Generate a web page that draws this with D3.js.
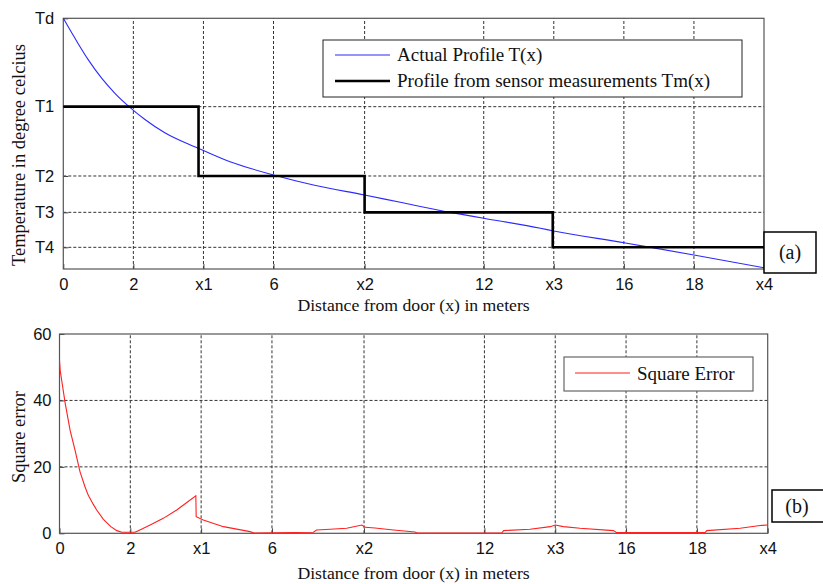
<!DOCTYPE html>
<html>
<head>
<meta charset="utf-8">
<script src="https://cdn.jsdelivr.net/npm/d3@7"></script>
<style>
  body { margin: 0; background: #fff; }
  svg { display: block; }
</style>
</head>
<body>
<script>
// values
var xTickVals   = [0, 2, 4, 6, 8.6, 12, 14, 16, 18, 20];
var xTickLabels = ["0", "2", "x1", "6", "x2", "12", "x3", "16", "18", "x4"];

var tempTickVals   = [30, 22.95, 17.42, 14.52, 11.73];
var tempTickLabels = ["Td", "T1", "T2", "T3", "T4"];

var errTickVals = [0, 20, 40, 60];

// actual profile T(x)
var profX = [0, 0.43, 0.71, 1.1, 1.48, 1.86, 2.33, 2.91, 3.58, 3.86, 4.76, 6, 7.14, 8.6, 9.62, 11.05, 12, 13.62, 14, 16, 16.76, 18, 20];
var profT = [30, 27.95, 26.7, 25.2, 24.0, 23.0, 21.93, 20.85, 19.95, 19.62, 18.56, 17.5, 16.7, 15.9, 15.32, 14.52, 14.05, 13.25, 13.03, 12.1, 11.73, 11.12, 10.1];

// sensor step profile Tm(x)
var stepX = [0, 3.86, 8.6, 13.97, 20];
var stepT = [22.95, 17.42, 14.52, 11.73, 11.73];

// square error
var errX = [0, 0.02, 0.155, 0.3, 0.44, 0.58, 0.72, 0.81, 0.955, 1.05, 1.24, 1.45, 1.62, 1.76, 2.13, 2.27, 2.56, 2.93, 3.31, 3.5, 3.85, 3.86, 4.06, 4.63, 5.38, 5.5, 7.17, 7.26, 7.64, 8.11, 8.54, 8.63, 8.91, 9.43, 10.04, 10.1, 12.49, 12.54, 13.29, 13.86, 14.0, 14.23, 14.7, 15.64, 15.74, 18.23, 18.28, 19.22, 19.84, 20];
var errY = [52, 49, 39.5, 31, 25, 18.5, 14, 11.5, 8.7, 7, 4.2, 2, 0.8, 0.3, 0.3, 1.0, 2.5, 4.5, 7.0, 8.5, 11.3, 5.0, 4.0, 2.0, 0.5, 0.1, 0.3, 1.0, 1.2, 1.5, 2.5, 1.8, 1.6, 1.0, 0.4, 0.1, 0.1, 0.8, 1.2, 2.0, 2.5, 2.0, 1.5, 0.8, 0.2, 0.2, 0.8, 1.5, 2.4, 2.5];

var width = 823, height = 584;
var svg = d3.select("body").append("svg")
  .attr("width", width)
  .attr("height", height)
  .style("font-family", "'Liberation Sans', Arial, sans-serif");

var serif = "'Liberation Serif', 'Times New Roman', serif";
var gridDash = "3,2";

// ---------- top panel ----------
var xs1 = d3.scaleLinear().domain([0, 20]).range([63.3, 764]);
var ys1 = d3.scaleLinear().domain([10, 30]).range([269, 18.3]);

var gTop = svg.append("g");

// grid
gTop.selectAll(".vgrid").data(xTickVals.slice(1, -1)).enter().append("line")
  .attr("x1", function (d) { return xs1(d); })
  .attr("x2", function (d) { return xs1(d); })
  .attr("y1", ys1(10)).attr("y2", ys1(30))
  .attr("stroke", "#333").attr("stroke-width", 1).attr("stroke-dasharray", gridDash);
gTop.selectAll(".hgrid").data(tempTickVals.slice(1)).enter().append("line")
  .attr("x1", xs1(0)).attr("x2", xs1(20))
  .attr("y1", function (d) { return ys1(d); })
  .attr("y2", function (d) { return ys1(d); })
  .attr("stroke", "#333").attr("stroke-width", 1).attr("stroke-dasharray", gridDash);

// axes
var xAxisTop = d3.axisBottom(xs1).tickValues(xTickVals)
  .tickFormat(function (d, i) { return xTickLabels[i]; })
  .tickSizeInner(-5).tickSizeOuter(0).tickPadding(9);
var gx1 = gTop.append("g").attr("transform", "translate(0," + ys1(10) + ")").call(xAxisTop);

var yAxisTop = d3.axisLeft(ys1).tickValues(tempTickVals)
  .tickFormat(function (d, i) { return tempTickLabels[i]; })
  .tickSizeInner(-5).tickSizeOuter(0).tickPadding(9);
var gy1 = gTop.append("g").attr("transform", "translate(" + xs1(0) + ",0)").call(yAxisTop);

[gx1, gy1].forEach(function (g) {
  g.select(".domain").remove();
  g.selectAll("line").attr("stroke", "#444");
  g.selectAll("text").attr("font-size", 16.5).attr("fill", "#111")
    .attr("font-family", "'Liberation Sans', Arial, sans-serif");
});

// box
gTop.append("rect")
  .attr("x", xs1(0)).attr("y", ys1(30))
  .attr("width", xs1(20) - xs1(0)).attr("height", ys1(10) - ys1(30))
  .attr("fill", "none").attr("stroke", "#555").attr("stroke-width", 1.2);

var profData = profX.map(function (d, i) { return [d, profT[i]]; });
gTop.append("path").datum(profData)
  .attr("fill", "none").attr("stroke", "#2a2aff").attr("stroke-width", 1.1)
  .attr("d", d3.line()
    .x(function (d) { return xs1(d[0]); })
    .y(function (d) { return ys1(d[1]); })
    .curve(d3.curveMonotoneX));

var stepData = stepX.map(function (d, i) { return [d, stepT[i]]; });
gTop.append("path").datum(stepData)
  .attr("fill", "none").attr("stroke", "#000").attr("stroke-width", 2.6)
  .attr("d", d3.line()
    .x(function (d) { return xs1(d[0]); })
    .y(function (d) { return ys1(d[1]); })
    .curve(d3.curveStepAfter));

// legend
var lg = gTop.append("g");
lg.append("rect").attr("x", 323).attr("y", 40).attr("width", 419).attr("height", 57)
  .attr("fill", "#fff").attr("stroke", "#222").attr("stroke-width", 1);
lg.append("line").attr("x1", 335).attr("x2", 390).attr("y1", 55).attr("y2", 55)
  .attr("stroke", "#2a2aff").attr("stroke-width", 1.1);
lg.append("line").attr("x1", 335).attr("x2", 390).attr("y1", 81).attr("y2", 81)
  .attr("stroke", "#000").attr("stroke-width", 2.6);
lg.append("text").attr("x", 397).attr("y", 61).text("Actual Profile T(x)")
  .attr("font-family", serif).attr("font-size", 19).attr("fill", "#111");
lg.append("text").attr("x", 397).attr("y", 87).text("Profile from sensor measurements Tm(x)")
  .attr("font-family", serif).attr("font-size", 19).attr("fill", "#111");

gTop.append("text").attr("x", 413.6).attr("y", 311).attr("text-anchor", "middle")
  .attr("font-family", serif).attr("font-size", 17.7).attr("fill", "#111")
  .text("Distance from door (x) in meters");
gTop.append("text").attr("transform", "translate(25,155) rotate(-90)")
  .attr("text-anchor", "middle")
  .attr("font-family", serif).attr("font-size", 18.5).attr("fill", "#111")
  .text("Temperature in degree celcius");

gTop.append("rect").attr("x", 764).attr("y", 232).attr("width", 52).attr("height", 41)
  .attr("fill", "#fff").attr("stroke", "#000").attr("stroke-width", 1.5);
gTop.append("text").attr("x", 790).attr("y", 259).attr("text-anchor", "middle")
  .attr("font-family", serif).attr("font-size", 20).attr("fill", "#111").text("(a)");

// ---------- bottom panel ----------
var xs2 = d3.scaleLinear().domain([0, 20]).range([59.5, 767.7]);
var ys2 = d3.scaleLinear().domain([0, 60]).range([533.3, 334]);

var gBot = svg.append("g");

gBot.selectAll(".vgrid").data(xTickVals.slice(1, -1)).enter().append("line")
  .attr("x1", function (d) { return xs2(d); })
  .attr("x2", function (d) { return xs2(d); })
  .attr("y1", ys2(0)).attr("y2", ys2(60))
  .attr("stroke", "#333").attr("stroke-width", 1).attr("stroke-dasharray", gridDash);
gBot.selectAll(".hgrid").data(errTickVals.slice(1, -1)).enter().append("line")
  .attr("x1", xs2(0)).attr("x2", xs2(20))
  .attr("y1", function (d) { return ys2(d); })
  .attr("y2", function (d) { return ys2(d); })
  .attr("stroke", "#333").attr("stroke-width", 1).attr("stroke-dasharray", gridDash);

var xAxisBot = d3.axisBottom(xs2).tickValues(xTickVals)
  .tickFormat(function (d, i) { return xTickLabels[i]; })
  .tickSizeInner(-5).tickSizeOuter(0).tickPadding(9);
var gx2 = gBot.append("g").attr("transform", "translate(0," + ys2(0) + ")").call(xAxisBot);

var yAxisBot = d3.axisLeft(ys2).tickValues(errTickVals)
  .tickFormat(d3.format("d"))
  .tickSizeInner(-5).tickSizeOuter(0).tickPadding(8);
var gy2 = gBot.append("g").attr("transform", "translate(" + xs2(0) + ",0)").call(yAxisBot);

[gx2, gy2].forEach(function (g) {
  g.select(".domain").remove();
  g.selectAll("line").attr("stroke", "#444");
  g.selectAll("text").attr("font-size", 16.5).attr("fill", "#111")
    .attr("font-family", "'Liberation Sans', Arial, sans-serif");
});

gBot.append("rect")
  .attr("x", xs2(0)).attr("y", ys2(60))
  .attr("width", xs2(20) - xs2(0)).attr("height", ys2(0) - ys2(60))
  .attr("fill", "none").attr("stroke", "#555").attr("stroke-width", 1.2);

var errData = errX.map(function (d, i) { return [d, errY[i]]; });
gBot.append("path").datum(errData)
  .attr("fill", "none").attr("stroke", "#ff2020").attr("stroke-width", 1.1)
  .attr("d", d3.line()
    .x(function (d) { return xs2(d[0]); })
    .y(function (d) { return ys2(d[1]); }));

var lg2 = gBot.append("g");
lg2.append("rect").attr("x", 564).attr("y", 357).attr("width", 189).attr("height", 34)
  .attr("fill", "#fff").attr("stroke", "#666").attr("stroke-width", 1.2);
lg2.append("line").attr("x1", 575).attr("x2", 630).attr("y1", 373).attr("y2", 373)
  .attr("stroke", "#ff2020").attr("stroke-width", 1.1);
lg2.append("text").attr("x", 637).attr("y", 380).text("Square Error")
  .attr("font-family", serif).attr("font-size", 19).attr("fill", "#111");

gBot.append("text").attr("x", 413.6).attr("y", 579).attr("text-anchor", "middle")
  .attr("font-family", serif).attr("font-size", 17.7).attr("fill", "#111")
  .text("Distance from door (x) in meters");
gBot.append("text").attr("transform", "translate(25,437) rotate(-90)")
  .attr("text-anchor", "middle")
  .attr("font-family", serif).attr("font-size", 18.5).attr("fill", "#111")
  .text("Square error");

gBot.append("rect").attr("x", 772).attr("y", 490).attr("width", 60).attr("height", 32)
  .attr("fill", "#fff").attr("stroke", "#000").attr("stroke-width", 1.5);
gBot.append("text").attr("x", 797).attr("y", 513).attr("text-anchor", "middle")
  .attr("font-family", serif).attr("font-size", 20).attr("fill", "#111").text("(b)");
</script>
</body>
</html>
